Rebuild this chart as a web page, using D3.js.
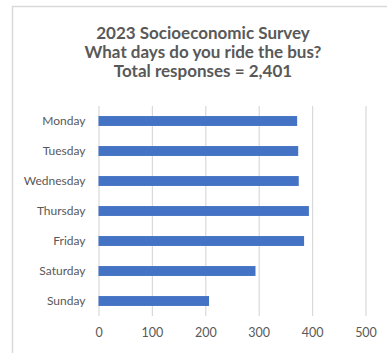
<!DOCTYPE html>
<html><head><meta charset="utf-8">
<script src="https://cdn.jsdelivr.net/npm/d3@7"></script>
<style>body{margin:0;background:#fff;} svg{display:block;font-family:Lato,"Open Sans",sans-serif;}</style>
</head><body>
<svg id="c" width="387" height="353"></svg>
<script>
const titleLines = ["2023 Socioeconomic Survey", "What days do you ride the bus?", "Total responses = 2,401"];
const days = ["Monday", "Tuesday", "Wednesday", "Thursday", "Friday", "Saturday", "Sunday"];
const responses = [372, 374, 375, 394, 385, 294, 207];
const xTicks = [0, 100, 200, 300, 400, 500];

const svg = d3.select("#c");
svg.append("rect").attr("x", 12.5).attr("y", 6.5).attr("width", 400).attr("height", 400)
  .attr("fill", "#fff").attr("stroke", "#d9d9d9").attr("stroke-width", 1.5);

const x = d3.scaleLinear().domain([0, 500]).range([98.5, 365.5]);
const y = d3.scaleBand().domain(days).range([106, 316]).paddingInner(0.67).paddingOuter(0.335);

svg.append("g").selectAll("text").data(titleLines).join("text")
  .attr("x", 203).attr("y", (d, i) => 38.5 + i * 19)
  .attr("text-anchor", "middle").attr("font-weight", "bold").attr("font-size", 17)
  .attr("fill", "#595959").text(d => d);

const grid = svg.append("g").attr("transform", "translate(0,316)")
  .call(d3.axisBottom(x).tickValues(xTicks).tickSize(-210).tickPadding(12).tickFormat(d3.format("d")));
grid.select(".domain").remove();
grid.selectAll(".tick line").attr("stroke", "#d9d9d9").attr("stroke-width", 1.2);
grid.selectAll(".tick text").attr("fill", "#595959").attr("font-size", 12.5).attr("font-family", "Lato,'Open Sans',sans-serif");

svg.append("g").selectAll("rect").data(days).join("rect")
  .attr("x", x(0)).attr("y", d => y(d))
  .attr("width", (d, i) => x(responses[i]) - x(0)).attr("height", y.bandwidth())
  .attr("fill", "#4472c4");

const yAx = svg.append("g").attr("transform", "translate(" + x(0) + ",0)")
  .call(d3.axisLeft(y).tickSize(0).tickPadding(13));
yAx.select(".domain").remove();
yAx.selectAll(".tick text").attr("fill", "#595959").attr("font-size", 12).attr("font-family", "Lato,'Open Sans',sans-serif");
</script>
</body></html>
